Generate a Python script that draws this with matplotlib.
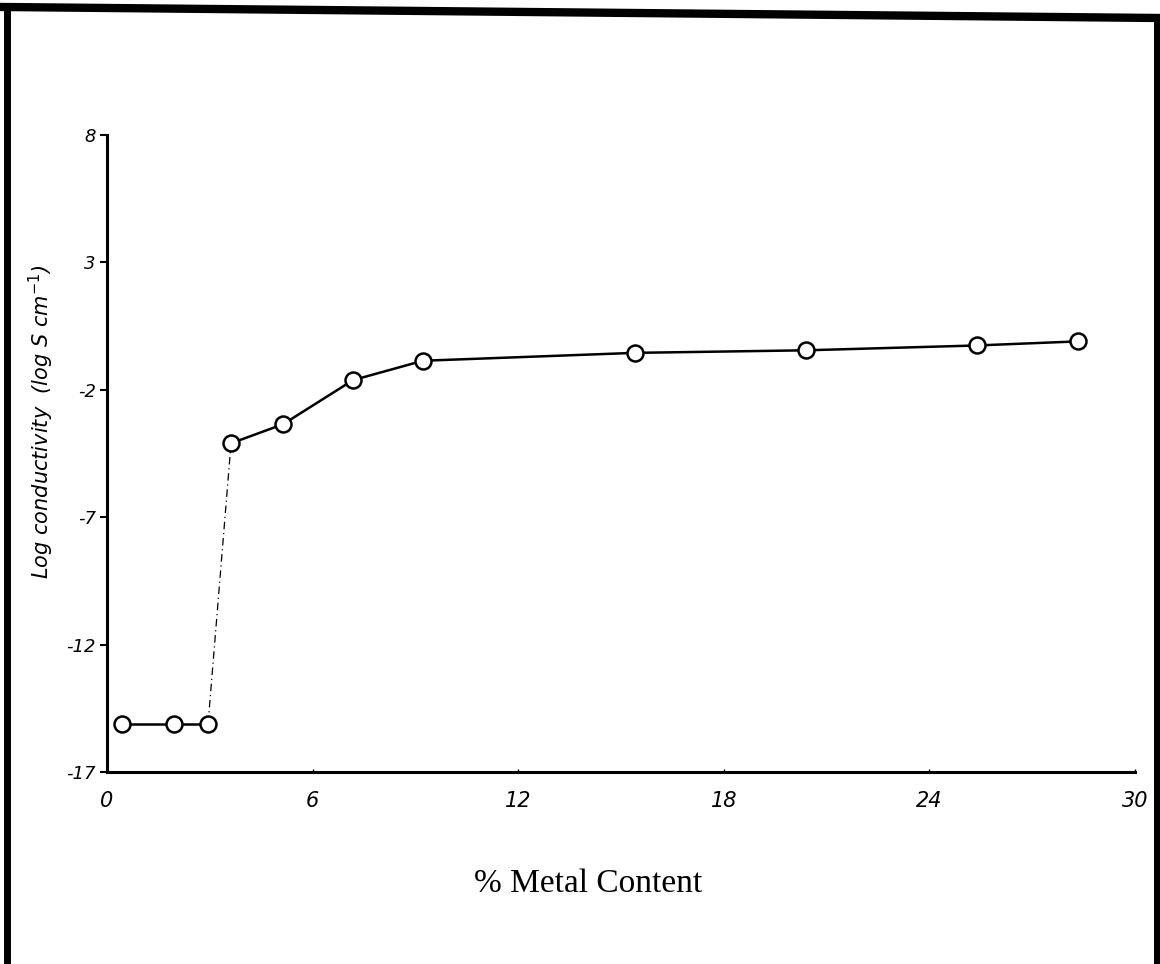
import matplotlib
matplotlib.use("Agg")
import matplotlib.pyplot as plt
from matplotlib.lines import Line2D

# Data
metal_low = [0.44, 1.95, 2.95]
cond_low = [-15.1, -15.1, -15.1]
metal_high = [3.62, 5.14, 7.18, 9.22, 15.41, 20.40, 25.39, 28.33]
cond_high = [-4.1, -3.35, -1.62, -0.86, -0.55, -0.45, -0.26, -0.1]
x_ticks = [0, 6, 12, 18, 24, 30]
y_ticks = [-17, -12, -7, -2, 3, 8]

W, H = 1160, 964
fig = plt.figure(figsize=(W / 100, H / 100), dpi=100)
fig.patch.set_facecolor("white")

ax = fig.add_axes([107 / W, 1 - 772 / H, (1135 - 107) / W, (772 - 135) / H])

# low-content plateau
ax.plot(metal_low, cond_low, color="black", lw=1.8, marker="o", ms=11.5,
        mfc="white", mec="black", mew=1.8, zorder=3)
# jump (thin dash-dot)
ax.plot([metal_low[-1], metal_high[0]], [cond_low[-1], cond_high[0]],
        color="black", lw=0.9, ls=(0, (6, 3, 1, 3)), zorder=2)
# high-content branch
ax.plot(metal_high, cond_high, color="black", lw=1.8, marker="o", ms=11.5,
        mfc="white", mec="black", mew=1.8, zorder=3)

ax.set_xlim(0, 30)
ax.set_ylim(-17, 8)
ax.set_xticks(x_ticks)
ax.set_yticks(y_ticks)
ax.set_xticklabels([str(v) for v in x_ticks], fontsize=15, style="italic")
ax.set_yticklabels([str(v) for v in y_ticks], fontsize=13, style="italic")
ax.tick_params(axis="y", direction="out", length=5, width=1.5, pad=3)
ax.tick_params(axis="x", direction="in", length=2, width=1, pad=14)

for s in ["top", "right"]:
    ax.spines[s].set_visible(False)
for s in ["left", "bottom"]:
    ax.spines[s].set_linewidth(2.2)

ax.set_ylabel("Log conductivity  (log S cm$^{-1}$)", fontsize=15,
              style="italic")
ax.yaxis.set_label_coords(-0.05, 0.55)

fig.text(588 / W, 1 - 884 / H, "% Metal Content", fontsize=24,
         family="Liberation Serif", ha="center", va="center")

# scan frame
fig.add_artist(Line2D([7 / W, 7 / W], [0, 1 - 6 / H], color="black",
                      lw=5, transform=fig.transFigure))
fig.add_artist(Line2D([1157 / W, 1157 / W], [0, 1 - 18 / H], color="black",
                      lw=5, transform=fig.transFigure))
fig.add_artist(Line2D([4 / W, 1160 / W], [1 - 7 / H, 1 - 18 / H],
                      color="black", lw=6, transform=fig.transFigure))

fig.savefig("out.png", dpi=100)
